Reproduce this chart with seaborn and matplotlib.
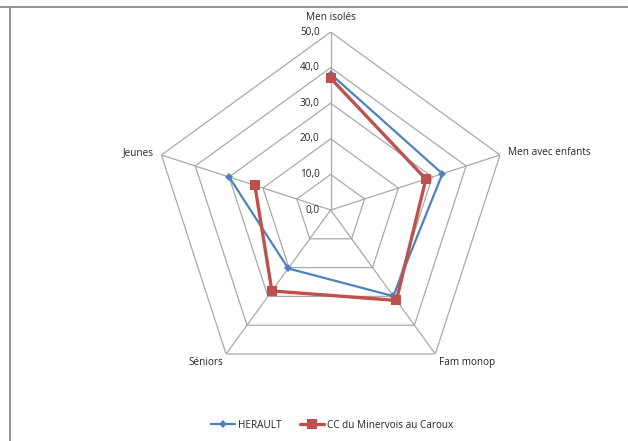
import numpy as np
import pandas as pd
import matplotlib
matplotlib.use("Agg")
import matplotlib.pyplot as plt
import seaborn as sns

categories = ["Men isolés", "Men avec enfants", "Fam monop", "Séniors", "Jeunes"]
herault = [38.2, 33.0, 29.9, 20.3, 30.0]
cc_minervois = [37.0, 28.1, 31.4, 28.1, 22.4]
series_names = ["HERAULT", "CC du Minervois au Caroux"]
r_ticks = [0, 10, 20, 30, 40, 50]
r_tick_labels = ["0,0", "10,0", "20,0", "30,0", "40,0", "50,0"]

sns.set_theme(style="white")
plt.rcParams["font.family"] = ["Open Sans", "DejaVu Sans"]

W, H = 628, 441
fig = plt.figure(figsize=(W / 100, H / 100), dpi=100)

# outer frame lines (top and left)
fig.add_artist(plt.Line2D([0, 1], [1 - 6.5 / H, 1 - 6.5 / H], transform=fig.transFigure,
                          color="#8c8c8c", lw=1.3))
fig.add_artist(plt.Line2D([9.5 / W, 9.5 / W], [0, 1 - 6.5 / H], transform=fig.transFigure,
                          color="#8c8c8c", lw=1.3))

cx, cy, rad = 330.7, 210.0, 178.0
ax = fig.add_axes([(cx - rad) / W, 1 - (cy + rad) / H, 2 * rad / W, 2 * rad / H],
                  projection="polar")
ax.set_theta_offset(np.pi / 2)
ax.set_theta_direction(-1)
ax.set_ylim(0, 50)
ax.grid(False)
ax.spines["polar"].set_visible(False)
ax.set_xticks([])
ax.set_yticks([])
ax.patch.set_alpha(0)

n = len(categories)
theta = np.linspace(0, 2 * np.pi, n, endpoint=False)
theta_closed = np.append(theta, theta[0])

grid_color = "#a9a9a9"
# pentagonal grid rings
for r in r_ticks[1:]:
    ax.plot(theta_closed, [r] * (n + 1), color=grid_color, lw=0.9, zorder=1)
# spokes
for t in theta:
    ax.plot([t, t], [0, 50], color=grid_color, lw=0.9, zorder=1)

text_color = "#262626"
# radial value labels along the top spoke
for r, lab in zip(r_ticks, r_tick_labels):
    ax.annotate(lab, xy=(0, r), xytext=(-11, 0), textcoords="offset pixels",
                ha="right", va="center", fontsize=7.2, color=text_color)

# category labels around the pentagon
label_offsets = [(0, 14, "center", "center"),
                 (8, 2, "left", "center"),
                 (4, -3, "left", "top"),
                 (-3, -3, "right", "top"),
                 (-8, 2, "right", "center")]
for t, cat, (dx, dy, ha, va) in zip(theta, categories, label_offsets):
    ax.annotate(cat, xy=(t, 50), xytext=(dx, dy), textcoords="offset pixels",
                ha=ha, va=va, fontsize=7.2, color=text_color)

df = pd.DataFrame({
    "theta": np.concatenate([theta_closed, theta_closed]),
    "value": herault + [herault[0]] + cc_minervois + [cc_minervois[0]],
    "series": [series_names[0]] * (n + 1) + [series_names[1]] * (n + 1),
})

sns.lineplot(data=df[df.series == series_names[0]], x="theta", y="value", sort=False,
             color="#4f81bd", lw=1.6, marker="D", markersize=4.5, markeredgewidth=0,
             label=series_names[0], ax=ax, zorder=3)
sns.lineplot(data=df[df.series == series_names[1]], x="theta", y="value", sort=False,
             color="#c0504d", lw=2.4, marker="s", markersize=7, markeredgewidth=0,
             label=series_names[1], ax=ax, zorder=4)
ax.set_xlabel("")
ax.set_ylabel("")
ax.set_ylim(0, 50)

handles, labels = ax.get_legend_handles_labels()
ax.get_legend().remove()
fig.legend(handles, labels, loc="center", bbox_to_anchor=(332 / W, 1 - 425 / H), ncol=2,
           frameon=False, fontsize=7.2, handlelength=2.4, handletextpad=0.3,
           columnspacing=1.8, labelcolor=text_color)

fig.savefig("out.png", dpi=100)
